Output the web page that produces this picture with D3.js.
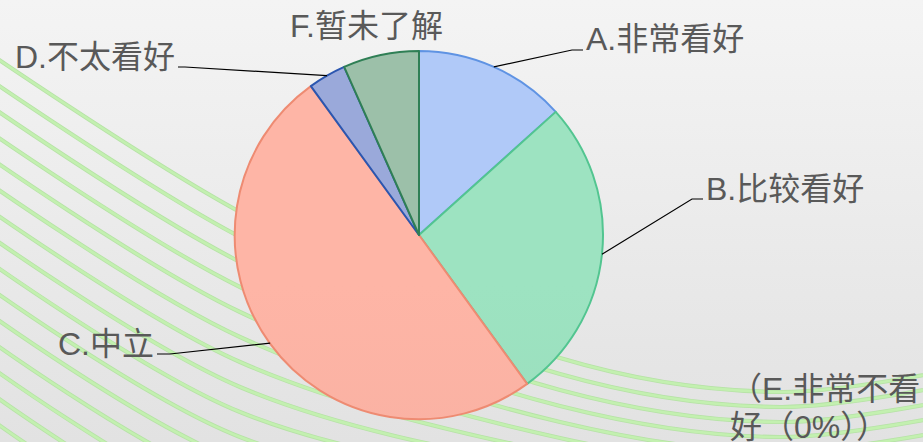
<!DOCTYPE html>
<html>
<head>
<meta charset="utf-8">
<script src="https://cdn.jsdelivr.net/npm/d3@7"></script>
<style>
  html,body{margin:0;padding:0;background:#eee;}
  svg{display:block;}
  .lbl{font-family:"Liberation Sans","Noto Sans CJK SC",sans-serif;font-size:32px;fill:#595959;}
</style>
</head>
<body>
<div class="canvas"></div>
<script>
// survey answers (count of responses)
const categories=['A.非常看好','B.比较看好','C.中立','D.不太看好','E.非常不看好','F.暂未了解'];
const values=[4,8,15,1,0,2];
const fills=['#acc5f3','#9adebd','#f9b1a2','#97a5d5','#ffffff','#99bca5'];
const strokes=['#5f93e3','#52c590','#ee8b72','#2b56b0','#ffffff','#2f7f55'];

const dims={width:923,height:442,radius:184};
const cent={x:419,y:235};

// where each label sits
const labelPos={
  'A.非常看好':{elbow:[572,50],end:[583,50],text:[586,50],anchor:'start'},
  'B.比较看好':{elbow:[692,199],end:[703,199],text:[706,200],anchor:'start'},
  'C.中立':{elbow:[170,354],end:[157,354],text:[154,355],anchor:'end'},
  'D.不太看好':{elbow:[185,67],end:[178,67],text:[175,68],anchor:'end'},
  'F.暂未了解':{text:[290,37],anchor:'start'}
};

const svg=d3.select('.canvas')
      .append('svg')
      .attr('width',dims.width)
      .attr('height',dims.height);

const defs=svg.append('defs');
const bg=defs.append('linearGradient').attr('id','bg').attr('x1',0).attr('y1',0).attr('x2',0).attr('y2',1);
bg.append('stop').attr('offset',0).attr('stop-color','#f4f4f4');
bg.append('stop').attr('offset',1).attr('stop-color','#e2e2e2');

svg.append('rect').attr('width',dims.width).attr('height',dims.height).attr('fill','url(#bg)');

//decorative green waves in the background
const wave=d3.line().curve(d3.curveCatmullRom.alpha(0.5));
const waves=svg.append('g');
d3.range(22).forEach(i=>{
  const pts=[[-30,40+26*i],[240,212+25*i],[560,358+16*i],[780,392+15*i],[960,368+15*i]];
  waves.append('path').attr('d',wave(pts)).attr('fill','none')
       .attr('stroke','#b6e2a6').attr('stroke-width',4.2);
  waves.append('path').attr('d',wave(pts)).attr('fill','none')
       .attr('stroke','#c3f0b0').attr('stroke-width',2.6);
});

// slice gradients (slightly lighter at top)
fills.forEach((c,i)=>{
  const g=defs.append('linearGradient').attr('id','sl'+i)
      .attr('gradientUnits','userSpaceOnUse')
      .attr('x1',0).attr('y1',cent.y-dims.radius).attr('x2',0).attr('y2',cent.y+dims.radius);
  g.append('stop').attr('offset',0).attr('stop-color',d3.color(c).brighter(0.06));
  g.append('stop').attr('offset',1).attr('stop-color',d3.color(c).darker(0.06));
});

const graph=svg.append('g')
      .attr('transform',`translate(${cent.x},${cent.y})`);

const data=categories.map((name,i)=>({name,value:values[i],i}));

const pie=d3.pie()
     .sort(null)
     .value(d=>d.value);

const arcPath=d3.arc()
    .outerRadius(dims.radius)
    .innerRadius(0);

const arcs=pie(data);

graph.selectAll('path')
     .data(arcs.filter(d=>d.data.value>0))
     .enter()
     .append('path')
     .attr('d',arcPath)
     .attr('fill',d=>`url(#sl${d.data.i})`)
     .attr('stroke',d=>strokes[d.data.i])
     .attr('stroke-width',2)
     .attr('stroke-linejoin','round');

//leader lines + labels
const labels=svg.append('g');
arcs.forEach(d=>{
  const p=labelPos[d.data.name];
  if(!p) return;
  if(p.elbow){
    const mid=(d.startAngle+d.endAngle)/2;
    const sx=cent.x+dims.radius*Math.sin(mid);
    const sy=cent.y-dims.radius*Math.cos(mid);
    labels.append('path')
      .attr('d',d3.line()([[sx,sy],p.elbow,p.end]))
      .attr('fill','none').attr('stroke','#000').attr('stroke-width',1.2);
  }
  labels.append('text').attr('class','lbl')
    .attr('x',p.text[0]).attr('y',p.text[1])
    .attr('text-anchor',p.anchor)
    .text(d.data.name);
});

// zero-value category shown as a note in the corner (wrapped on two lines)
const zero=data.filter(d=>d.value===0);
zero.forEach(d=>{
  const pct=d3.format('.0%')(d.value/d3.sum(values));
  const full=`（${d.name}（${pct}））`;
  [full.slice(0,7),full.slice(7)].forEach((s,k)=>{
    labels.append('text').attr('class','lbl')
      .attr('x',730).attr('y',400+k*38)
      .text(s);
  });
});
</script>
</body>
</html>
